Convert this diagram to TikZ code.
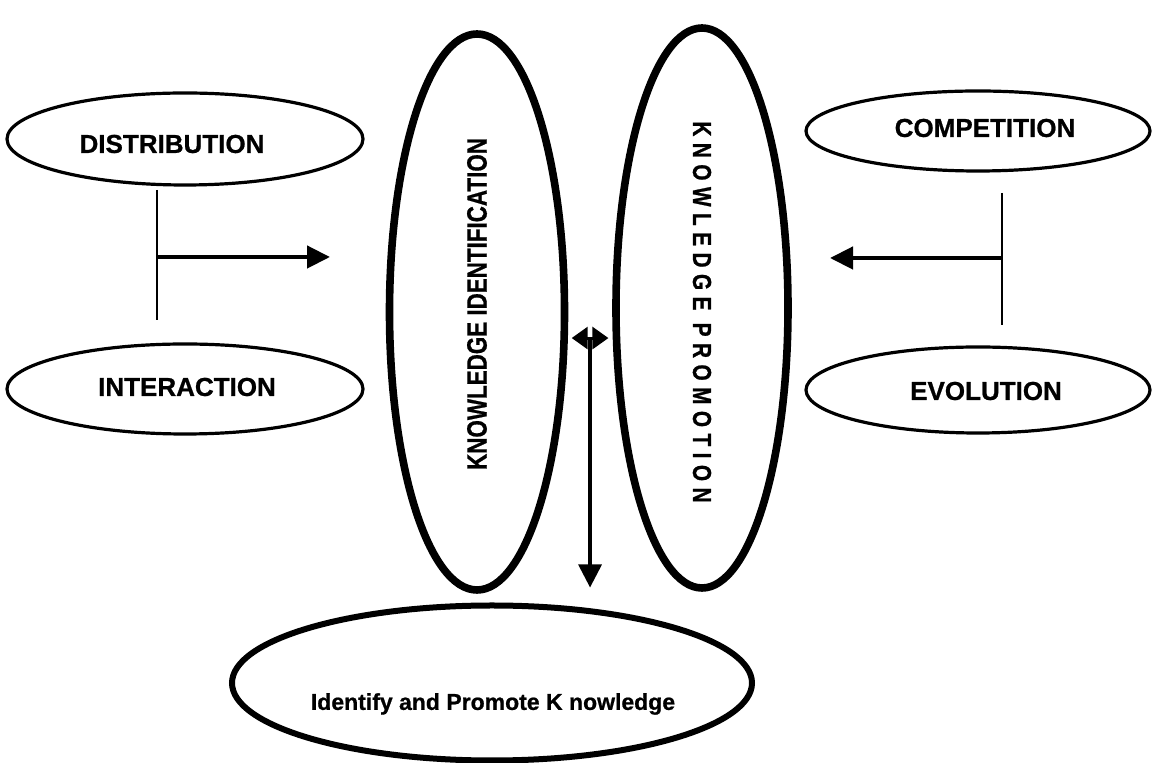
\documentclass[tikz,border=0pt]{standalone}
\usepackage{fontspec}
\setmainfont{Liberation Sans}
\newfontfamily\heavy[FakeBold=0.8]{Liberation Sans Bold}
\newfontfamily\spacedheavy[LetterSpace=31,FakeBold=1]{Liberation Sans Bold}
\usetikzlibrary{shapes.geometric,arrows.meta,calc}

\tikzset{
  blob/.style={draw=black, ellipse, inner sep=0pt, line width=1.6pt},
  pillar/.style={draw=black, ellipse, inner sep=0pt, line width=3.8pt},
  goalblob/.style={draw=black, ellipse, inner sep=0pt, line width=3pt},
  lbl/.style={inner sep=0pt, font=\heavy\fontsize{13}{15}\selectfont},
  bar/.style={line width=1.3pt},
  feed/.style={line width=2.2pt, -{Triangle[length=11.5pt,width=11pt]}},
  link/.style={line width=1.5pt, shorten <=1.9pt, shorten >=1.9pt,
    {Triangle[length=8pt,width=11pt]}-{Triangle[length=8pt,width=11pt]}},
  drop/.style={line width=1.6pt, -{Triangle[length=11.5pt,width=11.5pt]}}
}

\begin{document}
\begin{tikzpicture}[x=0.5pt,y=-0.5pt]
  \path[use as bounding box] (0,0) rectangle (1152,763);

  % left pair of factors
  \node[blob, minimum width=178pt, minimum height=46pt] (dist) at (185,139) {};
  \node[lbl] (distT) at (172,144) {DISTRIBUTION};
  \node[blob, minimum width=178pt, minimum height=45pt] (inter) at (185,389) {};
  \node[lbl] (interT) at (187,387) {INTERACTION};

  % right pair of factors
  \node[blob, minimum width=172pt, minimum height=40pt] (comp) at (978,131) {};
  \node[lbl] (compT) at (985,128) {COMPETITION};
  \node[blob, minimum width=172pt, minimum height=43pt] (evol) at (978,390) {};
  \node[lbl] (evolT) at (986,391) {EVOLUTION};

  % the two central pillars
  \node[pillar, minimum width=87.5pt, minimum height=278pt] (ki) at (477,312) {};
  \node[inner sep=0pt, rotate=90, font=\heavy\fontsize{14}{16}\selectfont] (kiT) at (477,304)
    {\scalebox{0.8}[1]{KNOWLEDGE IDENTIFICATION}};
  \node[pillar, minimum width=86pt, minimum height=280pt] (kp) at (702,308) {};
  \node[inner sep=0pt, rotate=-90, font=\spacedheavy\fontsize{13}{15}\selectfont] (kpT) at (702,312)
    {\scalebox{0.8}[1]{KNOWLEDGE PROMOTION}};

  % outcome
  \node[goalblob, minimum width=260pt, minimum height=77.5pt] (goal) at (492,683) {};
  \node[inner sep=0pt, font=\heavy\fontsize{11.5}{14}\selectfont] (goalT) at (493,704)
    {Identify and Promote K nowledge};

  % left T-connector feeding the identification pillar
  \coordinate (lt) at (157,190);
  \coordinate (lb) at (157,320);
  \coordinate (lm) at (157,257);
  \coordinate (la) at (330,257);
  \draw[bar] (lt) -- (lb);
  \draw[feed] (lm) -- (la);

  % right T-connector feeding the promotion pillar
  \coordinate (rt) at (1002,193);
  \coordinate (rb) at (1002,325);
  \coordinate (rm) at (1002,258);
  \coordinate (ra) at (830,258);
  \draw[bar] (rt) -- (rb);
  \draw[feed] (rm) -- (ra);

  % link between pillars and drop to the outcome
  \coordinate (l) at (ki.-16);
  \coordinate (r) at (l -| kp.west);
  \coordinate (mid) at ($(l)!0.5!(r)$);
  \draw[link] (l) -- (r);
  \draw[drop, shorten >=7.5pt] (mid) -- (mid |- goal.north);
\end{tikzpicture}
\end{document}
